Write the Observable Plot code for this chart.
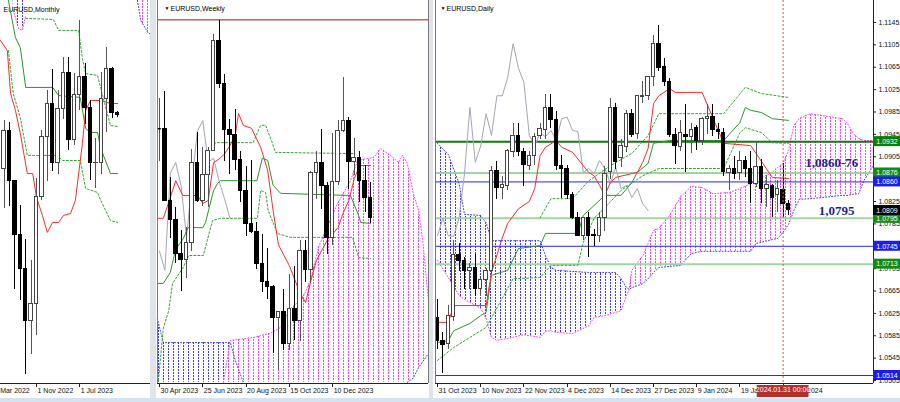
<!DOCTYPE html>
<html><head><meta charset="utf-8">
<script src="https://cdn.jsdelivr.net/npm/d3@7"></script>
<script src="https://cdn.jsdelivr.net/npm/@observablehq/plot@0.6"></script>
<style>
html,body{margin:0;padding:0;background:#dfe4ea;}
#root{position:relative;width:900px;height:402px;overflow:hidden;background:#dfe4ea;}
.panel{position:absolute;top:0;height:398px;background:#fff;overflow:hidden;}
.panel svg{display:block;}
#strip{position:absolute;left:0;top:398px;width:900px;height:4px;background:#d6e2f0;}
</style></head><body>
<svg width="0" height="0" style="position:absolute"><defs>
<pattern id="hBlue" width="5" height="3" patternUnits="userSpaceOnUse"><rect x="2" y="0" width="1" height="2" fill="#3b3bff"/></pattern>
<pattern id="hMag" width="5" height="3" patternUnits="userSpaceOnUse"><rect x="2" y="0" width="1" height="2" fill="#ff3cff"/></pattern>
</defs></svg>
<div id="root"><div id="strip"></div></div>
<script>
// ================= DAILY (idx 0 = 31 Oct 2023) =================
const dOpen  = [1.0617,1.0576,1.0571,1.0618,1.0730,1.0718,1.0701,1.0707,1.0668,1.0684,1.0700,1.0880,1.0850,1.0853,1.0913,1.0942,1.0913,1.0888,1.0906,1.0942,1.0953,1.0993,1.0970,1.0889,1.0884,1.0836,1.0796,1.0764,1.0795,1.0766,1.0763,1.0795,1.0877,1.0993,1.0902,1.0922,1.0982,1.0946,1.1012,1.1014,1.1047,1.1107,1.1065,1.1038,1.0943,1.0922,1.0944,1.0941,1.0956,1.0934,1.0973,1.0976,1.0952,1.0948,1.0876,1.0884,1.0876,1.0898,1.0884,1.0857,1.0886,1.0848,1.0852,1.0836,1.0845,1.0820];
const dHigh  = [1.0650,1.0590,1.0640,1.0756,1.0750,1.0725,1.0715,1.0730,1.0690,1.0705,1.0888,1.0897,1.0870,1.0918,1.0965,1.0965,1.0920,1.0915,1.0946,1.0965,1.1017,1.1017,1.0985,1.0907,1.0890,1.0842,1.0805,1.0797,1.0805,1.0775,1.0805,1.0888,1.1010,1.1000,1.0935,1.0988,1.0990,1.1015,1.1040,1.1045,1.1121,1.1140,1.1080,1.1045,1.0955,1.0970,1.0999,1.0965,1.0960,1.0975,1.0998,1.0998,1.0965,1.0955,1.0890,1.0905,1.0915,1.0905,1.0915,1.0932,1.0900,1.0872,1.0856,1.0862,1.0893,1.0826];
const dLow   = [1.0560,1.0517,1.0560,1.0610,1.0700,1.0667,1.0668,1.0656,1.0655,1.0655,1.0695,1.0828,1.0828,1.0845,1.0903,1.0905,1.0852,1.0880,1.0890,1.0935,1.0935,1.0955,1.0880,1.0830,1.0828,1.0793,1.0762,1.0755,1.0725,1.0745,1.0752,1.0772,1.0865,1.0882,1.0885,1.0912,1.0940,1.0935,1.1000,1.1005,1.1030,1.1057,1.1030,1.0940,1.0892,1.0915,1.0877,1.0910,1.0916,1.0925,1.0945,1.0942,1.0935,1.0870,1.0845,1.0865,1.0862,1.0868,1.0822,1.0850,1.0822,1.0815,1.0796,1.0805,1.0796,1.0800];
const dClose = [1.0576,1.0568,1.0620,1.0730,1.0718,1.0700,1.0707,1.0668,1.0685,1.0700,1.0880,1.0850,1.0854,1.0915,1.0942,1.0913,1.0890,1.0906,1.0940,1.0955,1.0993,1.0970,1.0889,1.0884,1.0836,1.0796,1.0764,1.0795,1.0764,1.0763,1.0796,1.0875,1.0993,1.0895,1.0924,1.0982,1.0943,1.1014,1.1014,1.1047,1.1107,1.1063,1.1038,1.0943,1.0925,1.0947,1.0941,1.0952,1.0934,1.0973,1.0976,1.0952,1.0950,1.0877,1.0884,1.0875,1.0898,1.0884,1.0857,1.0886,1.0848,1.0854,1.0832,1.0848,1.0821,1.0809];
const dTenkan = [[0,1.0609],[2,1.0609],[3,1.0639],[9,1.0639],[10,1.0698],[12,1.0760],[13,1.0786],[15,1.0812],[17,1.0825],[18,1.0848],[19,1.0907],[20,1.0922],[22,1.0934],[23,1.0922],[25,1.0913],[27,1.0889],[28,1.0877],[29,1.0871],[30,1.0854],[31,1.0836],[32,1.0859],[33,1.0868],[36,1.0875],[37,1.0877],[38,1.0895],[39,1.0920],[40,1.1000],[41,1.1014],[43,1.1027],[44,1.1020],[49,1.1020],[53,1.0929],[58,1.0925],[62,1.0868],[65,1.0866]];
const dKijun = [[0,1.0573],[2,1.0576],[3,1.0594],[6,1.0607],[8,1.0621],[9,1.0627],[10,1.0693],[13,1.0702],[15,1.0741],[19,1.0746],[20,1.0768],[26,1.0768],[27,1.0800],[29,1.0818],[31,1.0836],[34,1.0836],[36,1.0859],[37,1.0877],[39,1.0893],[40,1.0929],[43,1.0934],[53,1.0934],[56,1.0966],[57,1.0993],[58,1.0988],[60,1.0984],[62,1.0973],[65,1.0970]];
const dDashA = [[19,1.0796],[21,1.0830],[25,1.0830],[28,1.0862],[32,1.0889],[36,1.0911],[39,1.0943],[41,1.0982],[53,1.0982],[57,1.1029],[60,1.1018],[65,1.1011]];
const dDashB = [[0,1.0541],[3,1.0564],[9,1.0600],[14,1.0687],[19,1.0689],[21,1.0711],[26,1.0711],[27,1.0752],[29,1.0795],[31,1.0814],[34,1.0845],[38,1.0871],[41,1.0884],[53,1.0884],[56,1.0948],[57,1.0957],[60,1.0948],[62,1.0930],[65,1.0929]];
const dCloudIdx = [0,2,4,5,8,9,10,11,13,16,19,20,21,22,25,28,29,31,33,34,35,35.5,36,38,39,40,41,43,45,47,49,51,54,56,58,59,62,63,64,65,66,67,69,71,75,76,77,78,79,80.7];
const dSpanA = [1.0929,1.0909,1.0857,1.0802,1.0800,1.0787,1.0755,1.0755,1.0755,1.0755,1.0755,1.0728,1.0707,1.0702,1.0700,1.0698,1.0698,1.0698,1.0698,1.0687,1.0671,1.0668,1.0671,1.0678,1.0687,1.0698,1.0707,1.0709,1.0711,1.0732,1.0736,1.0736,1.0736,1.0736,1.0736,1.0750,1.0757,1.0759,1.0770,1.0784,1.0809,1.0829,1.0830,1.0832,1.0836,1.0836,1.0838,1.0839,1.0863,1.0889];
const dSpanB = [1.0720,1.0689,1.0657,1.0650,1.0634,1.0616,1.0582,1.0577,1.0580,1.0587,1.0582,1.0593,1.0594,1.0591,1.0589,1.0603,1.0618,1.0621,1.0627,1.0630,1.0657,1.0668,1.0702,1.0728,1.0750,1.0773,1.0777,1.0800,1.0833,1.0852,1.0850,1.0839,1.0841,1.0848,1.0857,1.0863,1.0877,1.0886,1.0893,1.0916,1.0961,1.0973,1.0982,1.0979,1.0973,1.0963,1.0947,1.0938,1.0934,1.0934];
const dLevelsMajor = [1.0932];
const dLevelsGreen = [1.0876,1.0795,1.0713];
const dLevelsBlue  = [1.0860,1.0745,1.0514];
const dCurrent = [1.0809];
const dCursor = [64];
const dPriceTicks = [1.1145,1.1105,1.1065,1.1025,1.0985,1.0945,1.0905,1.0825,1.0785,1.0705,1.0665,1.0625,1.0585,1.0545,1.0505];
const dDateTicks = [0,8,16,24,32,40,48,56,64];
const dDateLabels = ["31 Oct 2023","10 Nov 2023","22 Nov 2023","4 Dec 2023","14 Dec 2023","27 Dec 2023","9 Jan 2024","19 Jan 2024","31 Jan 2024"];
const dNotes = [{i:73, p:1.0895, label:"1,0860-76"},{i:73.9, p:1.0809, label:"1,0795"}];

// ================= WEEKLY (w 0 = 30 Apr 2023) =================
const wOpen  = [1.1020,1.1020,1.0850,1.0805,1.0724,1.0709,1.0749,1.0940,1.0850,1.0910,1.0967,1.1228,1.1125,1.1016,1.1005,1.0946,1.0873,1.0795,1.0775,1.0700,1.0658,1.0645,1.0573,1.0586,1.0510,1.0594,1.0565,1.0730,1.0685,1.0915,1.0940,1.0884,1.0762,1.0895,1.1014,1.1039,1.0941,1.0950,1.0897,1.0855];
const wHigh  = [1.1092,1.1107,1.0904,1.0833,1.0779,1.0787,1.0970,1.1012,1.0976,1.0975,1.1244,1.1276,1.1149,1.1042,1.1065,1.0966,1.0930,1.0945,1.0799,1.0769,1.0737,1.0650,1.0588,1.0640,1.0676,1.0695,1.0756,1.0756,1.0918,1.0965,1.1017,1.0892,1.1009,1.1040,1.1140,1.1046,1.0998,1.0965,1.0932,1.0893];
const wLow   = [1.0942,1.0848,1.0760,1.0702,1.0635,1.0666,1.0730,1.0845,1.0835,1.0834,1.0967,1.1114,1.0943,1.0912,1.0922,1.0845,1.0766,1.0771,1.0686,1.0632,1.0617,1.0488,1.0448,1.0495,1.0496,1.0520,1.0517,1.0655,1.0655,1.0852,1.0829,1.0723,1.0744,1.0885,1.1010,1.0877,1.0909,1.0845,1.0821,1.0796];
const wClose = [1.1020,1.0850,1.0805,1.0724,1.0709,1.0749,1.0940,1.0850,1.0910,1.0967,1.1228,1.1125,1.1016,1.1005,1.0946,1.0873,1.0795,1.0775,1.0700,1.0658,1.0645,1.0573,1.0586,1.0510,1.0594,1.0565,1.0730,1.0685,1.0915,1.0940,1.0884,1.0762,1.0895,1.1014,1.1039,1.0941,1.0950,1.0897,1.0855,1.0809];
const wTenkan = [[-0.4,1.0808],[0.7,1.0808],[2,1.0857],[3,1.0897],[4.3,1.0862],[7,1.0862],[8,1.0843],[9,1.0850],[10,1.0940],[11,1.0948],[12,1.0960],[13,1.0980],[14,1.1004],[14.6,1.1056],[15.5,1.1028],[17,1.1021],[18.7,1.0976],[20,1.0921],[21,1.0826],[22,1.0745],[24,1.0696],[26,1.0630],[27,1.0609],[28,1.0661],[29,1.0708],[31,1.0756],[33,1.0786],[34,1.0822],[35,1.0850],[36,1.0902],[37,1.0933],[39,1.0933]];
const wKijun = [[-0.4,1.0654],[0.7,1.0654],[2,1.0680],[3,1.0735],[4.4,1.0760],[5.3,1.0786],[8,1.0786],[8.5,1.0798],[10,1.0874],[10.7,1.0890],[11.3,1.0897],[18,1.0897],[19,1.0950],[20,1.0945],[21,1.0886],[22.4,1.0867],[35.3,1.0862],[36.8,1.0815],[37.2,1.0798],[39,1.0796]];
const wDashUp = [[10,1.0985],[10.7,1.0987],[17.3,1.0987],[18.7,1.1028],[19.6,1.1028],[20.9,1.0985],[21.4,1.0964],[36,1.0961]];
const wDashLow = [[-0.2,1.0424],[0.7,1.0548],[1.7,1.0589],[2.4,1.0654],[4.3,1.0690],[5.4,1.0720],[8.1,1.0720],[9.8,1.0803],[11.3,1.0808],[18.1,1.0808],[18.7,1.0874],[19.6,1.0869],[20.1,1.0826],[21.8,1.0772],[24.2,1.0763],[35.7,1.0763],[36.8,1.0715],[39,1.0713]];
const wBlueW = [-0.4,0.7,13.1,14,15.5];
const wBlueTop = [1.0571,1.0514,1.0514,1.0472,1.0420];
const wBlueBot = [1.0420,1.0420,1.0420,1.0420,1.0420];
const wMagW = [11.8,13.1,17.4,20.5,22.4,24.2,26.4,27.9,29.4,32.9,35.3,36.6,39.6,40.9,42.7,44.2,44.9,45.8,46.9,47.9,48.7,49.7];
const wMagTop = [1.0420,1.0519,1.0526,1.0536,1.0550,1.0595,1.0618,1.0660,1.0740,1.0843,1.0897,1.0945,1.0952,1.0973,1.0957,1.0940,1.0957,1.0938,1.0867,1.0826,1.0750,1.0614];
const wMagBot = [1.0420,1.0420,1.0420,1.0420,1.0420,1.0420,1.0420,1.0420,1.0420,1.0420,1.0420,1.0420,1.0420,1.0420,1.0420,1.0420,1.0420,1.0420,1.0430,1.0455,1.0470,1.0488];
const wHighLine = [1.1278];
const wDateTicks = [0,8,16,24,32];
const wDateLabels = ["30 Apr 2023","25 Jun 2023","20 Aug 2023","15 Oct 2023","10 Dec 2023"];

// ================= MONTHLY (m 0 = Nov 2022) =================
const mIdx   = [-6,-5,-4,-3,-2,-1,0,1,2,3,4,5,6,7,8,9,10,11,12,13,14,15];
const mOpen  = [1.0545,1.0733,1.0484,1.0220,1.0055,0.9800,0.9884,1.0406,1.0705,1.0863,1.0576,1.0839,1.1016,1.0688,1.0909,1.0998,1.0843,1.0573,1.0576,1.0888,1.1039,1.0818];
const mHigh  = [1.0786,1.0774,1.0488,1.0368,1.0198,1.0094,1.0497,1.0736,1.0929,1.1033,1.0930,1.1095,1.1092,1.1012,1.1276,1.1065,1.0882,1.0695,1.1017,1.1140,1.1046,1.0826];
const mLow   = [1.0349,1.0359,0.9952,0.9901,0.9536,0.9632,0.9730,1.0393,1.0483,1.0533,1.0516,1.0788,1.0635,1.0662,1.0834,1.0766,1.0488,1.0448,1.0517,1.0723,1.0795,1.0800];
const mClose = [1.0733,1.0484,1.0220,1.0055,0.9800,0.9884,1.0406,1.0705,1.0863,1.0576,1.0839,1.1016,1.0688,1.0909,1.0998,1.0843,1.0573,1.0576,1.0888,1.1039,1.0818,1.0809];
const mTenkan = [[-6.67,1.1177],[-5.4,1.1127],[-4.8,1.0916],[-3.9,1.0833],[-3,1.0720],[-1.7,1.0523],[-0.7,1.0523],[0,1.0405],[1.1,1.0317],[2,1.0234],[3,1.0283],[4.1,1.0283],[5,1.0317],[6.3,1.0327],[7.2,1.0391],[8.5,1.0671],[9.1,1.0833],[10,1.0882],[11.9,1.0882],[13.7,1.0867],[15,1.0867]];
const mKijun = [[-5.2,1.1373],[-3.9,1.1191],[-3,1.1142],[-2,1.0946],[3,1.0946],[4.1,1.0906],[8.1,1.0897],[9.1,1.0744],[10,1.0725],[11.3,1.0725],[11.9,1.0646],[13.7,1.0523],[15,1.0523]];
const mDashUp = [[-2,1.1285],[3.1,1.1280],[4.1,1.1226],[7.8,1.1226],[8.5,1.1088],[9.1,1.1014],[11.3,1.1005],[11.9,1.0941],[13.7,1.0759],[15,1.0754]];
const mDashLow = [[-5.2,1.1127],[-4.3,1.0916],[-3,1.0798],[-1.7,1.0612],[3.9,1.0612],[4.8,1.0587],[8.1,1.0587],[9.1,1.0450],[11.3,1.0430],[11.9,1.0391],[13.7,1.0292],[15,1.0283]];
const mCloudLeftM = [-4.3,-3.3,-2.6,-2.0];
const mCloudLeftBot = [1.1324,1.1235,1.1226,1.1300];
const mCloudRightM = [18.7,19.3,20.6,21.11];
const mCloudRightBot = [1.1373,1.1275,1.1216,1.1207];
const mDateTicks = [-8,0,8];
const mDateLabels = ["1 Mar 2022","1 Nov 2022","1 Jul 2023"];

// ================= helpers =================
const FONT = "'Liberation Sans', Arial, sans-serif";
const root = document.getElementById("root");
const rowsOf = (idx, o, h, l, c) => o.map((v, k) => ({i: idx[k], o: v, h: h[k], l: l[k], c: c[k]}));
const pts = (p, opts) => Plot.line(p, {x: d => d[0], y: d => d[1], curve: "linear", ...opts});
const dotA = {stroke: "#3b3bff", strokeWidth: 1, strokeDasharray: "1,2"};
const dotB = {stroke: "#ff3cff", strokeWidth: 1, strokeDasharray: "1,2"};

function candles(rows, hw) {
  const bull = rows.filter(d => d.c > d.o), bear = rows.filter(d => d.c < d.o), doji = rows.filter(d => d.c === d.o);
  return [
    Plot.ruleX(bull.concat(doji), {x: "i", y1: "l", y2: "h", stroke: "#555", strokeWidth: 1, shapeRendering: "crispEdges"}),
    Plot.ruleX(bear, {x: "i", y1: "l", y2: "h", stroke: "#000", strokeWidth: 1, shapeRendering: "crispEdges"}),
    Plot.rect(bull, {x1: d => d.i - hw, x2: d => d.i + hw, y1: "o", y2: "c", fill: "#fff", stroke: "#444", strokeWidth: 1, shapeRendering: "crispEdges"}),
    Plot.rect(bear, {x1: d => d.i - hw, x2: d => d.i + hw, y1: "o", y2: "c", fill: "#000", stroke: "#000", strokeWidth: 1, shapeRendering: "crispEdges"}),
    Plot.ruleY(doji, {y: "c", x1: d => d.i - hw, x2: d => d.i + hw, stroke: "#000", strokeWidth: 1.5})
  ];
}
function dateAxis(ticks, labels, yDom) {
  const ppx = (yDom[1] - yDom[0]) / 383;
  const rows = ticks.map((t, k) => ({t, label: labels[k]}));
  return [
    Plot.ruleY([yDom[0]], {stroke: "#222", strokeWidth: 1, shapeRendering: "crispEdges"}),
    Plot.ruleX(rows, {x: "t", y1: yDom[0], y2: yDom[0] - 4 * ppx, stroke: "#222", shapeRendering: "crispEdges"}),
    Plot.text(rows, {x: "t", text: "label", frameAnchor: "bottom", dy: 9, dx: 1, textAnchor: "start", fontSize: 7, fill: "#111"})
  ];
}
function panel(left, width, mL, mR, xDom, yDom, marks) {
  const svg = Plot.plot({
    width, height: 398, marginTop: 0, marginBottom: 15, marginLeft: mL, marginRight: mR,
    x: {domain: xDom, axis: null}, y: {domain: yDom, axis: null},
    style: {background: "#fff", fontFamily: FONT, fontSize: "7px", overflow: "hidden"},
    marks
  });
  const div = document.createElement("div");
  div.className = "panel";
  div.style.left = left + "px";
  div.style.width = width + "px";
  div.appendChild(svg);
  root.appendChild(div);
}
const dash = {stroke: "#36a336", strokeWidth: 1, strokeDasharray: "2,2"};
const tenk = {stroke: "#ff2a2a", strokeWidth: 1};
const kij = {stroke: "#2e962e", strokeWidth: 1};
const chik = {stroke: "#a3a6b4", strokeWidth: 1};

// ================= MONTHLY PANEL =================
{
  const xDom = [-6.667, 21.11], yDom = [0.94918, 1.13730];
  const rows = rowsOf(mIdx, mOpen, mHigh, mLow, mClose);
  const cl = mCloudLeftM.map((m, k) => ({m, t: yDom[1], b: mCloudLeftBot[k]}));
  const cr = mCloudRightM.map((m, k) => ({m, t: yDom[1], b: mCloudRightBot[k]}));
  panel(0, 150, 0, 0, xDom, yDom, [
    Plot.areaY(cl, {x: "m", y1: "t", y2: "b", fill: "url(#hBlue)"}),
    Plot.line(cl, {x: "m", y: "b", ...dotB}),
    Plot.areaY(cr, {x: "m", y1: "t", y2: "b", fill: "url(#hMag)"}),
    Plot.line(cr, {x: "m", y: "b", ...dotA}),
    Plot.text(["EURUSD,Monthly"], {frameAnchor: "top-left", dx: 3, dy: 7, text: d => d, textAnchor: "start", fontSize: 7, fill: "#000"}),
    pts(mDashUp, dash), pts(mDashLow, dash),
    pts(mKijun, kij), pts(mTenkan, tenk),
    ...candles(rows, 0.33),
    Plot.ruleX([xDom[1]], {stroke: "#888", shapeRendering: "crispEdges"}),
    ...dateAxis(mDateTicks, mDateLabels, yDom)
  ]);
}

// ================= WEEKLY PANEL =================
{
  const xDom = [-0.37, 49.72], yDom = [1.04172, 1.13233];
  const rows = rowsOf(wOpen.map((_, k) => k), wOpen, wHigh, wLow, wClose);
  const chikou = wClose.slice(26).map((c, k) => [k, c]);
  const blue = wBlueW.map((w, k) => ({w, t: wBlueTop[k], b: wBlueBot[k]}));
  const mag = wMagW.map((w, k) => ({w, t: wMagTop[k], b: wMagBot[k]}));
  const magBotVis = mag.filter((d, k, a) => d.b > 1.0421 || (a[k + 1] && a[k + 1].b > 1.0421));
  panel(156, 273, 1, 1, xDom, yDom, [
    Plot.areaY(blue, {x: "w", y1: "t", y2: "b", fill: "url(#hBlue)"}),
    Plot.areaY(mag, {x: "w", y1: "t", y2: "b", fill: "url(#hMag)"}),
    Plot.line(blue, {x: "w", y: "t", ...dotA}),
    Plot.line(mag, {x: "w", y: "t", ...dotB}),
    Plot.line(magBotVis, {x: "w", y: "b", ...dotA}),
    Plot.ruleY(wHighLine, {stroke: "#cc5e5e", strokeWidth: 1.5}),
    Plot.text(["▼"], {frameAnchor: "top-left", dx: 7, dy: 6, text: d => d, fontSize: 5, fill: "#000"}),
    Plot.text(["EURUSD,Weekly"], {frameAnchor: "top-left", dx: 13, dy: 6, text: d => d, textAnchor: "start", fontSize: 7, fill: "#000"}),
    pts(chikou, chik),
    pts(wDashUp, dash), pts(wDashLow, dash),
    pts(wKijun, kij), pts(wTenkan, tenk),
    ...candles(rows, 0.33),
    Plot.ruleX([xDom[0], xDom[1]], {stroke: "#777", shapeRendering: "crispEdges"}),
    ...dateAxis(wDateTicks, wDateLabels, yDom)
  ]);
}

// ================= DAILY PANEL =================
{
  const xDom = [-0.37, 80.74], yDom = [1.04997, 1.11843];
  const ppx = (yDom[1] - yDom[0]) / 383, xpx = 1 / 5.4;
  const rows = rowsOf(dOpen.map((_, k) => k), dOpen, dHigh, dLow, dClose);
  const chikou = dClose.slice(26).map((c, k) => [k, c]);
  const cloud = dCloudIdx.map((i, k) => ({i, a: dSpanA[k], b: dSpanB[k]}));
  const cBlue = cloud.filter(d => d.a >= d.b), cMag = cloud.filter(d => d.b >= d.a);
  const tag = (prices, color) => [
    Plot.rect(prices, {x1: xDom[1], x2: xDom[1] + 27 * xpx, y1: d => d - 5 * ppx, y2: d => d + 5 * ppx, fill: color}),
    Plot.text(prices, {y: d => d, text: d => d.toFixed(4), frameAnchor: "right", dx: 13.5, textAnchor: "middle", fill: "#fff", fontSize: 7})
  ];
  const hLine = (levels, color, w) => Plot.ruleY(levels, {y: d => d, stroke: color, strokeWidth: w});
  const dateBox = [{i: dCursor[0], label: "2024.01.31 00:00"}];
  panel(433, 467, 2, 27, xDom, yDom, [
    Plot.areaY(cBlue, {x: "i", y1: "a", y2: "b", fill: "url(#hBlue)"}),
    Plot.areaY(cMag, {x: "i", y1: "a", y2: "b", fill: "url(#hMag)"}),
    Plot.line(cloud, {x: "i", y: "a", ...dotA}),
    Plot.line(cloud, {x: "i", y: "b", ...dotB}),
    hLine(dLevelsGreen, "#a3d5a3", 2),
    hLine(dLevelsBlue, "#2323ff", 1),
    hLine(dLevelsMajor, "#0b7d0b", 2),
    Plot.text(["▼"], {frameAnchor: "top-left", dx: 5, dy: 6, text: d => d, fontSize: 5, fill: "#000"}),
    Plot.text(["EURUSD,Daily"], {frameAnchor: "top-left", dx: 11, dy: 6, text: d => d, textAnchor: "start", fontSize: 7, fill: "#000"}),
    pts(chikou, chik),
    pts(dDashA, dash), pts(dDashB, dash),
    pts(dKijun, kij), pts(dTenkan, tenk),
    ...candles(rows, 0.33),
    Plot.ruleX(dCursor, {x: d => d, stroke: "#e05050", strokeWidth: 1, strokeDasharray: "2,2"}),
    Plot.text(dNotes, {x: "i", y: "p", text: "label", fontFamily: "'Liberation Serif', 'Times New Roman', serif", fontWeight: "bold", fontSize: 13, fill: "#1f1f8c"}),
    Plot.ruleX([xDom[0]], {stroke: "#777", shapeRendering: "crispEdges"}),
    Plot.ruleX([xDom[1]], {stroke: "#222", shapeRendering: "crispEdges"}),
    Plot.ruleY(dPriceTicks, {y: d => d, x1: xDom[1], x2: xDom[1] + 3 * xpx, stroke: "#222"}),
    Plot.text(dPriceTicks, {y: d => d, text: d => d.toFixed(4), frameAnchor: "right", dx: 5, textAnchor: "start", fontSize: 7, fill: "#111"}),
    ...tag(dLevelsMajor, "#0b7d0b"),
    ...tag(dLevelsGreen, "#138a13"),
    ...tag(dLevelsBlue, "#1c1cf0"),
    ...tag(dCurrent, "#000"),
    ...dateAxis(dDateTicks, dDateLabels, yDom),
    Plot.rect(dateBox, {x1: d => d.i - 4.8, x2: d => d.i + 4.8, y1: yDom[0] - 2 * ppx, y2: yDom[0] - 14 * ppx, fill: "#b5302a"}),
    Plot.text(dateBox, {x: "i", text: "label", frameAnchor: "bottom", dy: 8, fill: "#fff", fontSize: 7})
  ]);
}
</script>
</body></html>
